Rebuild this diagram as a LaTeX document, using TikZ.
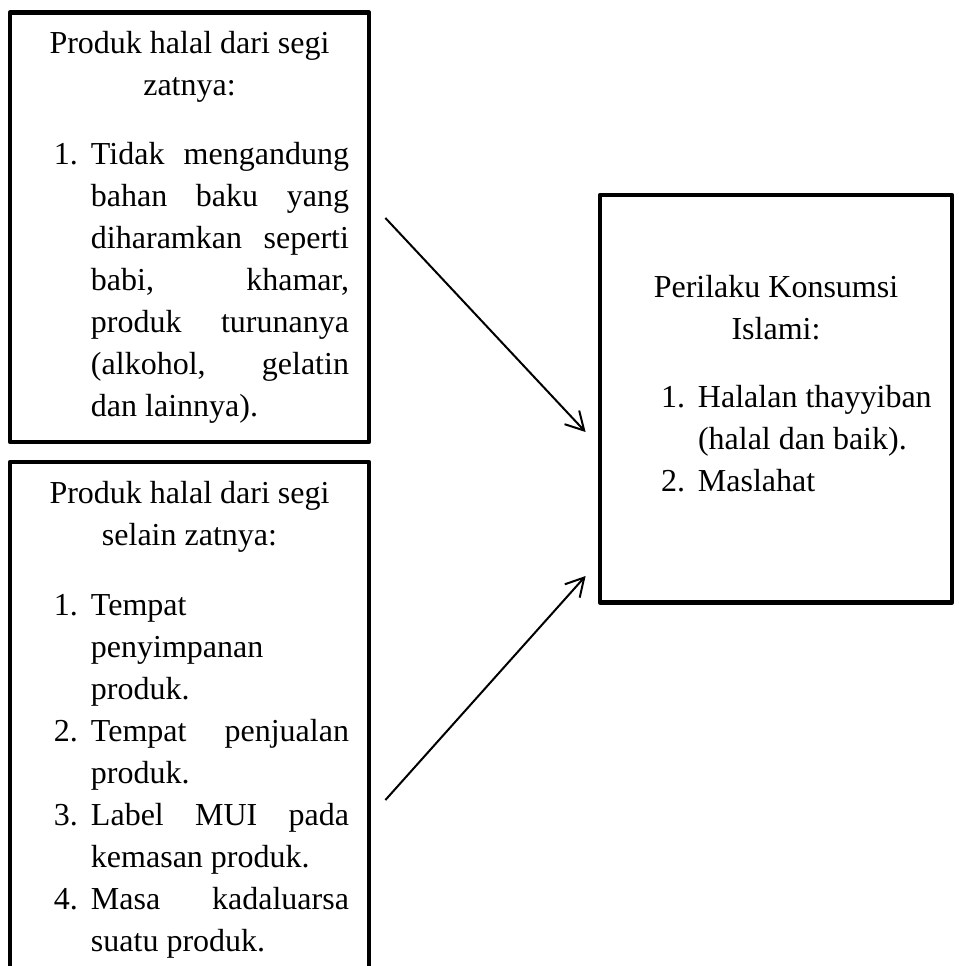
\documentclass[tikz,border=0pt]{standalone}
\usepackage{fontspec}
\setmainfont{Liberation Serif}
\usepackage{array}
\usepackage{tikz}
\usetikzlibrary{arrows.meta}
\tikzset{
every picture/.style={line width=1pt, >={Straight Barb[length=9pt,width=10pt]}},
%%%%%%%%%%  Node styles
frame_box/.style={draw, line width=2.4pt, line join=round, inner sep=0pt},
plain_text/.style={inner sep=0pt, font=\fontsize{16}{21}\selectfont},
%% list layout: number column, then the item text
item_list/.style={plain_text, anchor=base west},
title_text/.style={plain_text, anchor=base}
}

\begin{document}
\begin{tikzpicture}[x=0.5pt,y=-0.5pt]
\useasboundingbox (0,0) rectangle (959,966);
\clip (0,0) rectangle (959,966);
%% the three boxes
\node[frame_box, minimum width=359*0.5pt, minimum height=429.5*0.5pt] (zat) at (189.5,227.25) {};
\node[frame_box, minimum width=359*0.5pt, minimum height=538*0.5pt] (selain) at (189.5,731) {};
\node[frame_box, minimum width=352*0.5pt, minimum height=407.5*0.5pt] (perilaku) at (776,398.75) {};
%%%%%%%%%%%%%%%%%%%%%%%%%%%%%%%%%%%%%%%%%%%%%%
%% top left box
\node[title_text] (zat_title) at (189.5,53) {\begin{tabular}[t]{@{}c@{}}
	Produk halal dari segi\\ zatnya:\end{tabular}};
\node[item_list] (zat_list) at (53,164) {\begin{tabular}[t]{@{}p{18.5pt}@{}p{129pt}@{}}
	1. & Tidak\hfill mengandung\\
	& bahan\hfill baku\hfill yang\\
	& diharamkan\hfill seperti\\
	& babi,\hfill khamar,\\
	& produk\hfill turunanya\\
	& (alkohol,\hfill gelatin\\
	& dan lainnya).\end{tabular}};
%%%%%%%%%%%%%%%%%%%%%%%%%%%%%%%%%%%%%%%%%%%%%%
%% bottom left box
\node[title_text] (selain_title) at (189.5,503) {\begin{tabular}[t]{@{}c@{}}
	Produk halal dari segi\\ selain zatnya:\end{tabular}};
\node[item_list] (selain_list) at (53,615) {\begin{tabular}[t]{@{}p{18.5pt}@{}p{129pt}@{}}
	1. & Tempat\\
	& penyimpanan\\
	& produk.\\
	2. & Tempat\hfill penjualan\\
	& produk.\\
	3. & Label\hfill MUI\hfill pada\\
	& kemasan produk.\\
	4. & Masa\hfill kadaluarsa\\
	& suatu produk.\end{tabular}};
%%%%%%%%%%%%%%%%%%%%%%%%%%%%%%%%%%%%%%%%%%%%%%
%% right box
\node[title_text] (perilaku_title) at (776,297) {\begin{tabular}[t]{@{}c@{}}
	Perilaku Konsumsi\\ Islami:\end{tabular}};
\node[item_list] (perilaku_list) at (660,407) {\begin{tabular}[t]{@{}p{18.5pt}@{}l@{}}
	1. & Halalan thayyiban\\
	& (halal dan baik).\\
	2. & Maslahat\end{tabular}};
%%%%%%%%%%%%%%%%%%%%%%%%%%%%%%%%%%%%%%%%%%%%%%
%% arrows
\draw[->] ([shift={(14,-9.25)}]zat.east) -- ([shift={(-12,33.25)}]perilaku.west);
\draw[->] ([shift={(14,69)}]selain.east) -- ([shift={(-12,177.25)}]perilaku.west);
\end{tikzpicture}
\end{document}
